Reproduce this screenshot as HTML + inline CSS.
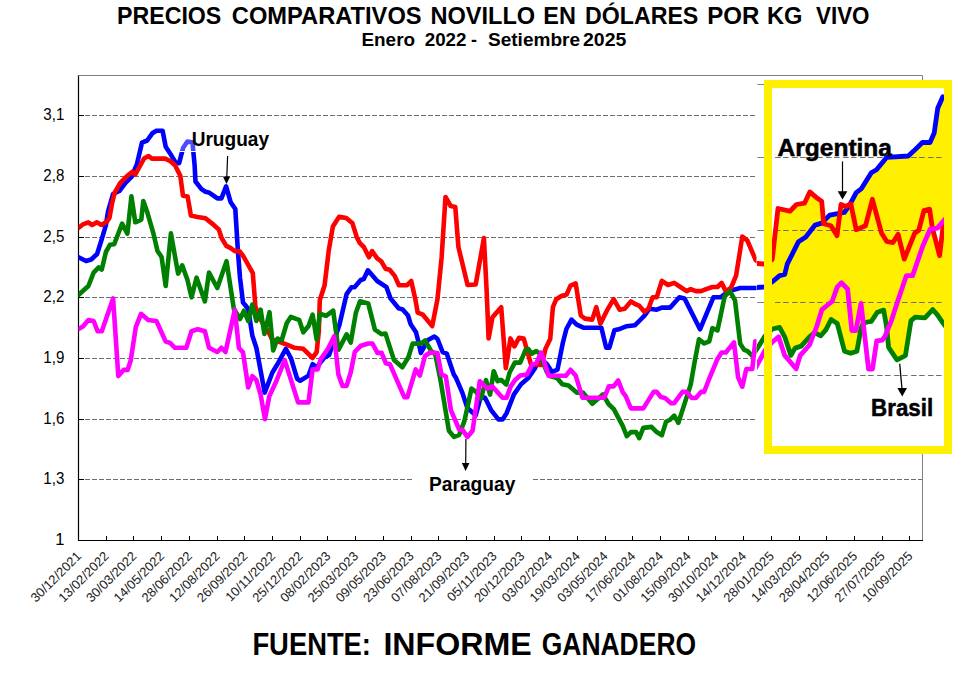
<!DOCTYPE html><html><head><meta charset="utf-8"><style>html,body{margin:0;padding:0;background:#fff;}svg{display:block;}text{font-family:"Liberation Sans",sans-serif;}</style></head><body>
<svg width="971" height="679" viewBox="0 0 971 679">
<rect x="0" y="0" width="971" height="679" fill="#fff"/>
<text x="117" y="23.7" font-size="23.3" font-weight="bold" textLength="104.3" lengthAdjust="spacingAndGlyphs">PRECIOS</text>
<text x="231.8" y="23.7" font-size="23.3" font-weight="bold" textLength="189.8" lengthAdjust="spacingAndGlyphs">COMPARATIVOS</text>
<text x="430.4" y="23.7" font-size="23.3" font-weight="bold" textLength="104.8" lengthAdjust="spacingAndGlyphs">NOVILLO</text>
<text x="543.3" y="23.7" font-size="23.3" font-weight="bold" textLength="32.6" lengthAdjust="spacingAndGlyphs">EN</text>
<text x="585" y="23.7" font-size="23.3" font-weight="bold" textLength="113.3" lengthAdjust="spacingAndGlyphs">DÓLARES</text>
<text x="707.3" y="23.7" font-size="23.3" font-weight="bold" textLength="52.1" lengthAdjust="spacingAndGlyphs">POR</text>
<text x="767" y="23.7" font-size="23.3" font-weight="bold" textLength="35.5" lengthAdjust="spacingAndGlyphs">KG</text>
<text x="816" y="23.7" font-size="23.3" font-weight="bold" textLength="53.5" lengthAdjust="spacingAndGlyphs">VIVO</text>
<text x="361.4" y="45.6" font-size="19" font-weight="bold" textLength="53.7" lengthAdjust="spacingAndGlyphs">Enero</text>
<text x="424.7" y="45.6" font-size="19" font-weight="bold" textLength="41.8" lengthAdjust="spacingAndGlyphs">2022</text>
<text x="471" y="45.6" font-size="19" font-weight="bold" textLength="6.0" lengthAdjust="spacingAndGlyphs">-</text>
<text x="488" y="45.6" font-size="19" font-weight="bold" textLength="92.0" lengthAdjust="spacingAndGlyphs">Setiembre</text>
<text x="583" y="45.6" font-size="19" font-weight="bold" textLength="43.3" lengthAdjust="spacingAndGlyphs">2025</text>
<line x1="85" y1="115.5" x2="755" y2="115.5" stroke="#6e6e6e" stroke-width="1" stroke-dasharray="5 2"/>
<line x1="78.5" y1="115.5" x2="84" y2="115.5" stroke="#000" stroke-width="1"/>
<line x1="85" y1="176.5" x2="755" y2="176.5" stroke="#6e6e6e" stroke-width="1" stroke-dasharray="5 2"/>
<line x1="78.5" y1="176.5" x2="84" y2="176.5" stroke="#000" stroke-width="1"/>
<line x1="85" y1="237.5" x2="755" y2="237.5" stroke="#6e6e6e" stroke-width="1" stroke-dasharray="5 2"/>
<line x1="78.5" y1="237.5" x2="84" y2="237.5" stroke="#000" stroke-width="1"/>
<line x1="85" y1="297.5" x2="755" y2="297.5" stroke="#6e6e6e" stroke-width="1" stroke-dasharray="5 2"/>
<line x1="78.5" y1="297.5" x2="84" y2="297.5" stroke="#000" stroke-width="1"/>
<line x1="85" y1="358.5" x2="755" y2="358.5" stroke="#6e6e6e" stroke-width="1" stroke-dasharray="5 2"/>
<line x1="78.5" y1="358.5" x2="84" y2="358.5" stroke="#000" stroke-width="1"/>
<line x1="85" y1="419.5" x2="755" y2="419.5" stroke="#6e6e6e" stroke-width="1" stroke-dasharray="5 2"/>
<line x1="78.5" y1="419.5" x2="84" y2="419.5" stroke="#000" stroke-width="1"/>
<line x1="85" y1="479.5" x2="922.5" y2="479.5" stroke="#6e6e6e" stroke-width="1" stroke-dasharray="5 2"/>
<line x1="78.5" y1="479.5" x2="84" y2="479.5" stroke="#000" stroke-width="1"/>
<text x="43.3" y="120.1" font-size="16.6" textLength="21" lengthAdjust="spacingAndGlyphs">3,1</text>
<text x="43.3" y="181.1" font-size="16.6" textLength="21" lengthAdjust="spacingAndGlyphs">2,8</text>
<text x="43.3" y="242.1" font-size="16.6" textLength="21" lengthAdjust="spacingAndGlyphs">2,5</text>
<text x="43.3" y="302.1" font-size="16.6" textLength="21" lengthAdjust="spacingAndGlyphs">2,2</text>
<text x="43.3" y="363.1" font-size="16.6" textLength="21" lengthAdjust="spacingAndGlyphs">1,9</text>
<text x="43.3" y="424.1" font-size="16.6" textLength="21" lengthAdjust="spacingAndGlyphs">1,6</text>
<text x="43.3" y="484.1" font-size="16.6" textLength="21" lengthAdjust="spacingAndGlyphs">1,3</text>
<text x="64.6" y="545.1" font-size="16.6" text-anchor="end">1</text>
<line x1="78.5" y1="75.5" x2="922.5" y2="75.5" stroke="#7f7f7f" stroke-width="1"/>
<line x1="922.5" y1="75.5" x2="922.5" y2="540.5" stroke="#7f7f7f" stroke-width="1"/>
<text transform="translate(82.0,557.0) rotate(-45)" font-size="13" fill="#222" text-anchor="end">30/12/2021</text>
<line x1="106.5" y1="540.5" x2="106.5" y2="536" stroke="#000" stroke-width="1"/>
<text transform="translate(109.7,557.0) rotate(-45)" font-size="13" fill="#222" text-anchor="end">13/02/2022</text>
<line x1="133.5" y1="540.5" x2="133.5" y2="536" stroke="#000" stroke-width="1"/>
<text transform="translate(137.4,557.0) rotate(-45)" font-size="13" fill="#222" text-anchor="end">30/03/2022</text>
<line x1="161.5" y1="540.5" x2="161.5" y2="536" stroke="#000" stroke-width="1"/>
<text transform="translate(165.1,557.0) rotate(-45)" font-size="13" fill="#222" text-anchor="end">14/05/2022</text>
<line x1="189.5" y1="540.5" x2="189.5" y2="536" stroke="#000" stroke-width="1"/>
<text transform="translate(192.9,557.0) rotate(-45)" font-size="13" fill="#222" text-anchor="end">28/06/2022</text>
<line x1="217.5" y1="540.5" x2="217.5" y2="536" stroke="#000" stroke-width="1"/>
<text transform="translate(220.6,557.0) rotate(-45)" font-size="13" fill="#222" text-anchor="end">12/08/2022</text>
<line x1="244.5" y1="540.5" x2="244.5" y2="536" stroke="#000" stroke-width="1"/>
<text transform="translate(248.3,557.0) rotate(-45)" font-size="13" fill="#222" text-anchor="end">26/09/2022</text>
<line x1="272.5" y1="540.5" x2="272.5" y2="536" stroke="#000" stroke-width="1"/>
<text transform="translate(276.0,557.0) rotate(-45)" font-size="13" fill="#222" text-anchor="end">10/11/2022</text>
<line x1="300.5" y1="540.5" x2="300.5" y2="536" stroke="#000" stroke-width="1"/>
<text transform="translate(303.7,557.0) rotate(-45)" font-size="13" fill="#222" text-anchor="end">25/12/2022</text>
<line x1="327.5" y1="540.5" x2="327.5" y2="536" stroke="#000" stroke-width="1"/>
<text transform="translate(331.4,557.0) rotate(-45)" font-size="13" fill="#222" text-anchor="end">08/02/2023</text>
<line x1="355.5" y1="540.5" x2="355.5" y2="536" stroke="#000" stroke-width="1"/>
<text transform="translate(359.1,557.0) rotate(-45)" font-size="13" fill="#222" text-anchor="end">25/03/2023</text>
<line x1="383.5" y1="540.5" x2="383.5" y2="536" stroke="#000" stroke-width="1"/>
<text transform="translate(386.9,557.0) rotate(-45)" font-size="13" fill="#222" text-anchor="end">09/05/2023</text>
<line x1="411.5" y1="540.5" x2="411.5" y2="536" stroke="#000" stroke-width="1"/>
<text transform="translate(414.6,557.0) rotate(-45)" font-size="13" fill="#222" text-anchor="end">23/06/2023</text>
<line x1="438.5" y1="540.5" x2="438.5" y2="536" stroke="#000" stroke-width="1"/>
<text transform="translate(442.3,557.0) rotate(-45)" font-size="13" fill="#222" text-anchor="end">07/08/2023</text>
<line x1="466.5" y1="540.5" x2="466.5" y2="536" stroke="#000" stroke-width="1"/>
<text transform="translate(470.0,557.0) rotate(-45)" font-size="13" fill="#222" text-anchor="end">21/09/2023</text>
<line x1="494.5" y1="540.5" x2="494.5" y2="536" stroke="#000" stroke-width="1"/>
<text transform="translate(497.7,557.0) rotate(-45)" font-size="13" fill="#222" text-anchor="end">05/11/2023</text>
<line x1="521.5" y1="540.5" x2="521.5" y2="536" stroke="#000" stroke-width="1"/>
<text transform="translate(525.4,557.0) rotate(-45)" font-size="13" fill="#222" text-anchor="end">20/12/2023</text>
<line x1="549.5" y1="540.5" x2="549.5" y2="536" stroke="#000" stroke-width="1"/>
<text transform="translate(553.1,557.0) rotate(-45)" font-size="13" fill="#222" text-anchor="end">03/02/2024</text>
<line x1="577.5" y1="540.5" x2="577.5" y2="536" stroke="#000" stroke-width="1"/>
<text transform="translate(580.9,557.0) rotate(-45)" font-size="13" fill="#222" text-anchor="end">19/03/2024</text>
<line x1="605.5" y1="540.5" x2="605.5" y2="536" stroke="#000" stroke-width="1"/>
<text transform="translate(608.6,557.0) rotate(-45)" font-size="13" fill="#222" text-anchor="end">03/05/2024</text>
<line x1="632.5" y1="540.5" x2="632.5" y2="536" stroke="#000" stroke-width="1"/>
<text transform="translate(636.3,557.0) rotate(-45)" font-size="13" fill="#222" text-anchor="end">17/06/2024</text>
<line x1="660.5" y1="540.5" x2="660.5" y2="536" stroke="#000" stroke-width="1"/>
<text transform="translate(664.0,557.0) rotate(-45)" font-size="13" fill="#222" text-anchor="end">01/08/2024</text>
<line x1="688.5" y1="540.5" x2="688.5" y2="536" stroke="#000" stroke-width="1"/>
<text transform="translate(691.7,557.0) rotate(-45)" font-size="13" fill="#222" text-anchor="end">15/09/2024</text>
<line x1="715.5" y1="540.5" x2="715.5" y2="536" stroke="#000" stroke-width="1"/>
<text transform="translate(719.4,557.0) rotate(-45)" font-size="13" fill="#222" text-anchor="end">30/10/2024</text>
<line x1="743.5" y1="540.5" x2="743.5" y2="536" stroke="#000" stroke-width="1"/>
<text transform="translate(747.1,557.0) rotate(-45)" font-size="13" fill="#222" text-anchor="end">14/12/2024</text>
<line x1="771.5" y1="540.5" x2="771.5" y2="536" stroke="#000" stroke-width="1"/>
<text transform="translate(774.8,557.0) rotate(-45)" font-size="13" fill="#222" text-anchor="end">28/01/2025</text>
<line x1="799.5" y1="540.5" x2="799.5" y2="536" stroke="#000" stroke-width="1"/>
<text transform="translate(802.6,557.0) rotate(-45)" font-size="13" fill="#222" text-anchor="end">14/03/2025</text>
<line x1="826.5" y1="540.5" x2="826.5" y2="536" stroke="#000" stroke-width="1"/>
<text transform="translate(830.3,557.0) rotate(-45)" font-size="13" fill="#222" text-anchor="end">28/04/2025</text>
<line x1="854.5" y1="540.5" x2="854.5" y2="536" stroke="#000" stroke-width="1"/>
<text transform="translate(858.0,557.0) rotate(-45)" font-size="13" fill="#222" text-anchor="end">12/06/2025</text>
<line x1="882.5" y1="540.5" x2="882.5" y2="536" stroke="#000" stroke-width="1"/>
<text transform="translate(885.7,557.0) rotate(-45)" font-size="13" fill="#222" text-anchor="end">27/07/2025</text>
<line x1="909.5" y1="540.5" x2="909.5" y2="536" stroke="#000" stroke-width="1"/>
<text transform="translate(913.4,557.0) rotate(-45)" font-size="13" fill="#222" text-anchor="end">10/09/2025</text>
<line x1="78.5" y1="75.5" x2="78.5" y2="541.0" stroke="#000" stroke-width="1.2"/>
<line x1="78.0" y1="540.5" x2="923.0" y2="540.5" stroke="#000" stroke-width="1.2"/>
<defs><clipPath id="plot"><rect x="78.5" y="75.5" width="678.0" height="465.0"/></clipPath>
<clipPath id="inner"><rect x="757" y="88" width="187" height="358"/></clipPath>
<clipPath id="bTop"><path d="M 700,1000 L 700,263 L 750,263 L 764,264 L 772.2,259.6 L 778,208.5 L 789.9,211.2 L 796.5,204.5 L 804.5,203.2 L 809.8,191.9 L 817.7,198.6 L 821.7,201.2 L 823.7,223.8 L 831,225.8 L 837,235.7 L 841,204.5 L 845.6,206.5 L 850.9,203.9 L 856.2,229.7 L 865.5,225.8 L 872.4,199.3 L 881.6,233.3 L 886.8,241.5 L 893,242.6 L 898.1,234.3 L 904.3,259.1 L 914.6,233.3 L 918.8,230.2 L 923.9,210.6 L 929.6,209.2 L 932.3,227.7 L 939.6,255.6 L 942.9,227.7 L 946,222 L 1000,222 L 1000,1000 Z"/><path d="M 700,1000 L 700,288 L 750,288 L 764,287 L 772.4,281.8 L 779.6,275.6 L 784.7,274.5 L 787.2,264.2 L 798.5,241.7 L 805.8,237 L 815.1,225.1 L 821.7,223.1 L 829.7,215.1 L 836.3,213.8 L 844.3,212.5 L 849.6,205.2 L 856.2,192.6 L 861.5,188.6 L 871.3,172.8 L 876.5,169.7 L 886.8,157.3 L 908.3,156 L 913.6,151.1 L 922.4,142.5 L 930,142.5 L 934.2,133 L 937.7,108.3 L 942.8,96.8 L 1000,96.8 L 1000,1000 Z"/></clipPath>
<clipPath id="aGreen"><path d="M 700,0 L 700,360 L 750,360 L 765,336 L 772.4,329 L 779.6,327.3 L 784.7,336.8 L 790.9,355.4 L 795.1,348.1 L 801.2,346.1 L 809.5,336.8 L 814.6,332.7 L 820.8,335.8 L 826,329.6 L 831.1,319.5 L 837.3,323.6 L 844.5,351.2 L 850.7,353.3 L 856.9,351.2 L 861,328.6 L 863.1,323.4 L 867.2,322 L 871.3,321.3 L 877.4,312.2 L 883.7,310.1 L 886.5,326.3 L 888.6,347.3 L 897,359.9 L 905.4,355.7 L 911,320.7 L 915.2,317.2 L 925,317.9 L 932.7,309.5 L 937.6,315.1 L 943.2,323.4 L 946,327 L 1000,327 L 1000,0 Z"/></clipPath>
</defs>
<g clip-path="url(#plot)" fill="none" stroke-width="4.6" stroke-linejoin="round" stroke-linecap="round">
<polyline points="78.1,257.0 86.0,261.0 91.2,259.5 97.1,254.0 101.5,240.0 105.9,225.2 108.0,211.6 113.1,194.0 119.3,191.0 125.5,182.8 131.7,176.6 136.9,164.2 142.0,142.6 147.2,140.5 152.3,133.3 156.4,130.8 162.6,130.8 165.7,146.7 169.8,152.9 176.0,163.2 179.1,163.2 183.2,147.7 187.4,141.5 192.5,142.6 194.6,165.0 195.5,181.5 201.5,189.1 205.5,191.7 208.8,192.4 217.4,198.4 221.4,198.4 226.1,186.4 230.7,202.3 235.3,209.0 237.9,251.0 240.0,277.7 243.0,302.5 248.2,308.7 252.3,335.5 256.4,348.0 264.7,392.6 272.4,372.5 278.6,362.2 285.8,348.8 290.9,358.0 297.1,378.7 300.2,380.7 308.5,375.6 312.6,364.2 316.7,367.3 323.9,358.0 329.1,355.0 339.4,325.0 346.6,294.1 351.4,287.2 354.5,287.2 360.7,280.0 363.8,279.0 367.9,270.3 377.2,281.0 386.5,287.2 390.6,298.6 398.8,308.4 402.7,309.5 408.0,315.5 410.7,324.3 416.0,332.2 418.5,342.0 420.8,352.9 428.0,340.0 434.4,336.5 437.5,339.0 442.6,352.0 446.7,353.6 453.8,374.5 456.1,378.1 462.3,392.6 467.4,408.0 475.7,415.3 480.8,396.7 485.0,397.7 491.1,410.1 498.4,419.4 502.5,419.4 506.6,413.2 513.8,394.6 521.0,384.3 528.2,378.1 535.0,368.2 539.6,358.0 546.8,364.0 552.0,372.0 557.5,369.6 562.8,343.0 566.4,329.0 571.5,319.6 576.7,324.7 583.9,327.8 601.4,327.8 606.2,347.8 609.3,347.8 614.4,330.3 618.6,329.3 626.8,326.2 635.1,325.2 641.2,319.0 644.3,315.9 649.5,308.7 656.7,309.7 661.9,307.6 670.1,307.6 679.4,297.3 684.5,298.4 700.0,329.3 713.4,297.3 720.6,297.3 728.9,291.1 740.2,288.0 754.6,288.0 758.8,288.0 768.0,288.0" stroke="#0000ff"/>
<polyline points="78.1,228.3 83.0,224.3 88.3,222.3 92.2,225.0 96.9,222.3 101.5,225.0 106.8,221.6 109.5,217.6 112.1,203.0 114.8,192.4 120.1,183.2 128.0,175.2 132.0,171.9 135.3,174.5 144.0,158.6 148.6,156.0 151.9,158.6 165.2,158.6 170.5,161.3 175.0,165.2 180.3,175.8 183.0,195.7 187.6,196.4 190.9,215.6 197.5,216.9 205.5,218.2 212.1,223.6 218.8,229.5 221.6,238.0 226.3,245.9 230.3,247.9 234.9,251.2 239.5,251.2 243.5,256.5 252.8,273.1 255.4,306.6 259.5,316.9 264.7,327.2 268.0,331.0 271.9,339.0 278.6,341.5 286.8,344.6 294.0,347.7 303.3,348.8 312.6,358.0 316.7,351.9 318.8,331.2 319.8,300.3 324.6,285.2 328.8,250.1 332.9,226.4 339.1,216.7 346.3,218.1 352.5,223.3 356.6,236.7 359.7,242.9 363.8,247.0 369.0,257.3 372.1,251.1 377.2,258.4 381.3,261.4 385.5,268.7 389.6,269.7 394.7,275.9 398.9,285.2 407.1,285.2 411.2,281.0 415.4,299.6 417.7,312.7 422.9,314.7 432.2,326.1 437.5,299.0 441.6,257.7 445.5,197.0 450.7,206.0 455.3,207.0 458.4,247.0 467.6,285.0 475.7,284.5 483.9,238.1 486.6,290.0 488.6,338.4 492.5,317.2 501.2,307.2 505.8,368.2 510.5,338.4 514.4,346.4 519.1,337.7 523.7,338.4 531.0,364.3 541.6,364.9 545.6,348.4 550.2,339.1 552.9,307.2 556.2,299.3 561.5,296.0 566.6,294.5 570.5,285.6 575.7,283.5 580.8,315.5 585.0,318.6 592.2,319.6 596.3,307.2 600.4,323.7 607.6,309.3 613.6,299.2 619.6,309.7 624.7,308.7 630.9,301.4 636.1,304.5 639.2,305.6 644.3,311.8 648.5,308.7 652.6,297.3 656.7,297.3 661.9,280.8 668.0,285.0 674.2,282.9 680.4,287.0 686.6,291.1 690.7,289.1 695.9,291.1 701.0,291.1 706.2,289.1 712.4,287.0 717.5,287.0 721.6,282.9 725.8,291.1 730.9,288.0 736.1,275.7 742.3,236.5 747.4,240.6 755.7,260.2 758.8,262.3 768.0,262.3" stroke="#ff0000"/>
<polyline points="78.1,295.3 88.4,286.0 93.6,272.6 98.7,267.4 101.8,269.5 105.9,252.0 110.0,244.7 114.2,244.3 122.1,223.6 127.4,233.6 131.4,196.4 135.3,222.3 141.3,219.6 143.3,201.1 147.3,212.3 153.4,233.4 157.5,250.9 161.6,257.1 165.7,286.0 170.9,233.4 178.1,273.6 182.2,265.4 187.4,279.8 191.5,297.3 196.6,277.7 204.9,301.4 209.0,272.6 217.3,288.0 226.5,261.2 233.8,308.7 240.0,319.0 244.0,310.7 248.2,321.0 252.3,304.5 256.4,321.0 260.6,309.7 264.4,334.0 269.5,312.2 273.2,350.5 277.5,338.5 281.6,340.5 286.8,323.0 290.9,316.8 296.1,318.9 299.2,319.9 303.3,332.3 308.5,326.1 312.6,314.7 316.7,339.5 319.8,313.7 326.0,315.8 333.2,310.6 338.4,349.8 346.6,334.3 350.7,342.6 355.9,312.7 360.0,301.3 368.2,303.4 374.9,329.6 381.5,334.2 385.5,333.6 394.0,360.1 402.3,367.3 408.5,357.0 412.6,343.6 420.8,343.6 425.0,340.5 431.1,350.8 435.3,354.5 440.5,380.0 448.9,430.7 454.0,436.9 459.2,434.8 464.3,421.4 471.5,388.5 475.7,391.5 480.8,398.8 486.0,380.2 490.1,394.6 493.7,371.2 497.6,381.2 501.0,379.8 506.3,384.5 509.6,372.5 514.9,362.6 520.2,362.6 525.7,349.7 528.4,349.0 531.7,353.7 536.3,351.0 539.5,353.5 546.9,372.2 549.6,376.0 557.1,378.1 562.3,384.3 568.5,385.4 576.7,392.6 582.9,392.6 592.3,403.7 602.9,394.4 608.5,404.0 613.8,409.2 622.7,425.9 626.8,436.2 630.9,432.1 636.1,432.1 639.2,438.2 643.3,427.9 651.5,426.9 656.7,432.1 661.9,435.2 666.0,421.8 670.1,419.7 674.2,415.6 678.4,422.8 690.7,384.6 694.8,360.9 699.0,339.3 704.1,343.4 709.3,341.3 712.4,328.2 717.5,330.3 724.7,296.3 729.9,291.1 735.0,300.4 740.2,343.7 744.3,349.9 747.6,351.2 752.3,355.8 760.0,346.0" stroke="#008000"/>
<polyline points="78.1,329.3 83.2,326.2 88.4,320.0 93.6,321.0 97.7,331.3 101.8,331.3 113.1,298.4 118.3,376.1 123.5,369.9 127.6,369.9 130.7,360.6 135.8,327.2 141.0,313.8 148.2,320.0 156.4,321.0 165.7,341.6 169.8,342.7 175.0,347.8 186.3,347.8 191.5,331.3 197.7,329.3 204.9,331.3 209.0,347.8 217.3,352.0 221.4,347.8 225.5,352.0 234.8,309.7 238.9,348.0 243.0,352.4 248.2,387.4 252.3,376.1 256.4,380.2 260.6,394.6 265.0,419.2 269.3,396.2 276.5,380.7 284.7,360.1 298.1,402.4 308.5,402.4 312.6,369.4 317.7,369.4 320.8,359.1 328.0,348.8 334.2,336.4 338.4,374.5 342.5,385.9 346.6,385.9 350.7,372.5 354.8,351.9 361.0,345.7 368.2,343.5 372.4,343.5 377.5,352.9 381.6,352.9 385.8,363.2 389.9,364.2 404.3,397.2 407.4,397.2 415.7,369.4 419.8,375.6 425.0,356.0 430.1,352.5 437.4,353.0 441.4,374.5 445.8,376.3 450.9,410.1 459.2,429.7 462.3,429.7 467.4,436.9 472.6,430.7 479.8,381.2 487.0,388.5 492.2,386.4 502.5,397.7 506.6,397.7 510.7,386.4 515.1,380.0 520.2,375.5 527.0,374.5 532.3,364.3 536.3,362.9 541.3,352.6 548.6,375.8 565.8,375.8 570.5,369.8 575.8,375.8 582.4,397.7 604.3,397.7 608.9,386.4 613.6,386.4 618.2,380.5 622.8,392.4 625.5,395.7 630.9,408.4 643.3,408.4 653.6,391.9 656.7,391.9 660.8,397.0 665.0,398.0 671.1,403.2 674.2,403.2 682.5,391.9 686.6,391.9 691.8,398.0 695.9,398.0 701.0,391.9 704.1,391.9 709.3,378.5 717.5,358.9 721.6,352.5 725.8,352.5 734.0,342.4 738.1,377.4 742.3,386.7 746.3,369.0 752.3,369.0 755.3,341.2" stroke="#ff00ff"/>
</g>
<rect x="179.5" y="126" width="95" height="24.9" fill="#fff" fill-opacity="0.3"/>
<line x1="179.5" y1="151.5" x2="274.5" y2="151.5" stroke="#fff" stroke-width="1.1"/>
<text x="191.7" y="145.5" font-size="20" font-weight="bold" textLength="77.3" lengthAdjust="spacingAndGlyphs">Uruguay</text>
<line x1="227.6" y1="156" x2="226.8" y2="177" stroke="#000" stroke-width="1.2"/>
<polygon points="222.9,176.6 230.2,176.6 226.5,184" fill="#000"/>
<rect x="412" y="472" width="121" height="24" fill="#fff"/>
<text x="429.1" y="490.6" font-size="20" font-weight="bold" textLength="86.2" lengthAdjust="spacingAndGlyphs">Paraguay</text>
<line x1="465.9" y1="439" x2="465.7" y2="464" stroke="#000" stroke-width="1.2"/>
<polygon points="461.8,463 469.5,463 465.6,471" fill="#000"/>
<line x1="757.5" y1="84.5" x2="764" y2="84.5" stroke="#808080" stroke-width="1"/>
<line x1="757.5" y1="157.5" x2="764" y2="157.5" stroke="#808080" stroke-width="1"/>
<line x1="757.5" y1="230.5" x2="764" y2="230.5" stroke="#808080" stroke-width="1"/>
<line x1="757.5" y1="302.5" x2="764" y2="302.5" stroke="#808080" stroke-width="1"/>
<line x1="757.5" y1="375.5" x2="764" y2="375.5" stroke="#808080" stroke-width="1"/>
<rect x="772" y="88" width="172" height="358" fill="#fff"/>
<g clip-path="url(#inner)">
<g clip-path="url(#bTop)"><g clip-path="url(#aGreen)"><rect x="772" y="88" width="172" height="358" fill="#fff000"/></g></g>
<line x1="775.1" y1="157.5" x2="944" y2="157.5" stroke="#6e6e6e" stroke-width="1" stroke-dasharray="5.5 2.5 5.5 3.5"/>
<line x1="775.1" y1="230.5" x2="944" y2="230.5" stroke="#6e6e6e" stroke-width="1" stroke-dasharray="5.5 2.5 5.5 3.5"/>
<line x1="775.1" y1="302.5" x2="944" y2="302.5" stroke="#6e6e6e" stroke-width="1" stroke-dasharray="5.5 2.5 5.5 3.5"/>
<line x1="775.1" y1="375.5" x2="944" y2="375.5" stroke="#6e6e6e" stroke-width="1" stroke-dasharray="5.5 2.5 5.5 3.5"/>
<polygon points="934.9,230.6 941.2,229.2 938.9,242.8" fill="#fff"/>
<g fill="none" stroke-width="4.8" stroke-linejoin="round" stroke-linecap="round">
<polyline points="750.0,288.0 764.0,287.0 772.4,281.8 779.6,275.6 784.7,274.5 787.2,264.2 798.5,241.7 805.8,237.0 815.1,225.1 821.7,223.1 829.7,215.1 836.3,213.8 844.3,212.5 849.6,205.2 856.2,192.6 861.5,188.6 871.3,172.8 876.5,169.7 886.8,157.3 908.3,156.0 913.6,151.1 922.4,142.5 930.0,142.5 934.2,133.0 937.7,108.3 942.8,96.8" stroke="#0000ff"/>
<polyline points="750.0,263.0 764.0,264.0 772.2,259.6 778.0,208.5 789.9,211.2 796.5,204.5 804.5,203.2 809.8,191.9 817.7,198.6 821.7,201.2 823.7,223.8 831.0,225.8 837.0,235.7 841.0,204.5 845.6,206.5 850.9,203.9 856.2,229.7 865.5,225.8 872.4,199.3 881.6,233.3 886.8,241.5 893.0,242.6 898.1,234.3 904.3,259.1 914.6,233.3 918.8,230.2 923.9,210.6 929.6,209.2 932.3,227.7 939.6,255.6 942.9,227.7 946.0,222.0" stroke="#ff0000"/>
<polyline points="750.0,360.0 765.0,336.0 772.4,329.0 779.6,327.3 784.7,336.8 790.9,355.4 795.1,348.1 801.2,346.1 809.5,336.8 814.6,332.7 820.8,335.8 826.0,329.6 831.1,319.5 837.3,323.6 844.5,351.2 850.7,353.3 856.9,351.2 861.0,328.6 863.1,323.4 867.2,322.0 871.3,321.3 877.4,312.2 883.7,310.1 886.5,326.3 888.6,347.3 897.0,359.9 905.4,355.7 911.0,320.7 915.2,317.2 925.0,317.9 932.7,309.5 937.6,315.1 943.2,323.4 946.0,327.0" stroke="#008000"/>
<polyline points="750.0,378.0 765.0,350.5 772.4,342.0 778.6,336.8 784.7,355.4 796.1,368.8 800.2,355.4 809.5,345.0 816.7,326.5 821.9,309.6 827.0,305.5 832.2,301.3 837.3,286.9 841.4,282.8 847.6,289.0 851.8,330.6 855.9,330.6 861.0,303.4 868.5,369.0 872.5,369.0 876.7,340.9 882.3,340.2 885.1,336.0 891.4,320.6 897.1,303.0 906.4,275.6 912.6,275.6 922.9,245.7 930.1,229.2 937.3,228.1 942.5,222.0 946.0,218.0" stroke="#ff00ff"/>
</g></g>
<path d="M764,80 H952 V454 H764 Z M772,88 V446 H944 V88 Z" fill="#fff000" fill-rule="evenodd"/>
<text x="777.5" y="155.8" font-size="23.3" font-weight="bold" textLength="114.5" lengthAdjust="spacingAndGlyphs" stroke="#000" stroke-width="0.5">Argentina</text>
<line x1="842.5" y1="161.4" x2="842.5" y2="192" stroke="#000" stroke-width="1.2"/>
<polygon points="837.7,191.3 847.4,191.3 842.5,199.6" fill="#000"/>
<text x="871.1" y="415.8" font-size="23" font-weight="bold" textLength="62" lengthAdjust="spacingAndGlyphs" stroke="#000" stroke-width="0.5">Brasil</text>
<line x1="899.7" y1="363.8" x2="902" y2="389" stroke="#000" stroke-width="1.3"/>
<polygon points="897.4,388 907,388 902.2,396.5" fill="#000"/>
<text x="252.4" y="654.6" font-size="31.5" font-weight="bold" textLength="118.6" lengthAdjust="spacingAndGlyphs">FUENTE:</text>
<text x="383.4" y="654.6" font-size="31.5" font-weight="bold" textLength="148.4" lengthAdjust="spacingAndGlyphs">INFORME</text>
<text x="541.7" y="654.6" font-size="31.5" font-weight="bold" textLength="154.4" lengthAdjust="spacingAndGlyphs">GANADERO</text>
</svg></body></html>
